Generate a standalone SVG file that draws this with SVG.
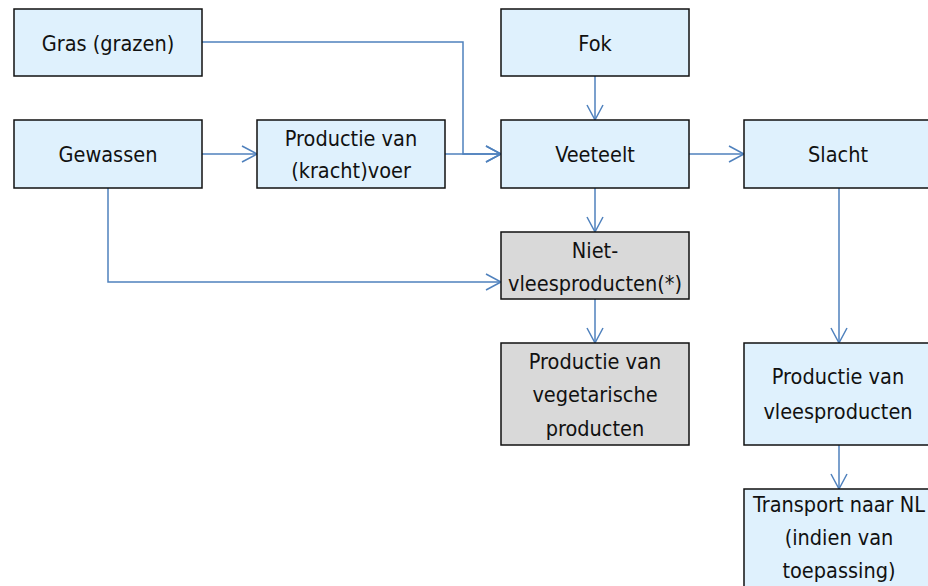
<svg xmlns="http://www.w3.org/2000/svg" width="928" height="586" viewBox="0 0 928 586">
<style>
.box{fill:#DFF1FD;stroke:#111;stroke-width:1.5}
.gray{fill:#D9D9D9;stroke:#111;stroke-width:1.5}
text{font-family:"DejaVu Sans Condensed","DejaVu Sans",sans-serif;font-size:21.5px;fill:#111;text-anchor:middle}
.c{fill:none;stroke:#4F81BD;stroke-width:1.5;marker-end:url(#ah)}
</style>
<defs>
<marker id="ah" markerUnits="userSpaceOnUse" markerWidth="20" markerHeight="20" refX="15" refY="8" orient="auto" overflow="visible">
<path d="M0,0 L15,8 L0,16" fill="none" stroke="#4F81BD" stroke-width="1.5"/>
</marker>
</defs>
<rect width="928" height="586" fill="#fff"/>
<g id="connectors">
<path class="c" d="M202,42 H463 V154 H501"/>
<path class="c" d="M445,154 H501"/>
<path class="c" d="M202,154 H257"/>
<path class="c" d="M108,188 V282 H501"/>
<path class="c" d="M595,76 V120"/>
<path class="c" d="M595,188 V232"/>
<path class="c" d="M595,299 V343"/>
<path class="c" d="M689,154 H744"/>
<path class="c" d="M839,188 V343"/>
<path class="c" d="M839,445 V489"/>
</g>
<g id="gras"><rect class="box" x="14" y="9" width="188" height="67"/><text x="108" y="51">Gras (grazen)</text></g>
<g id="fok"><rect class="box" x="501" y="9" width="188" height="67"/><text x="595" y="51">Fok</text></g>
<g id="gewassen"><rect class="box" x="14" y="120" width="188" height="68"/><text x="108" y="162">Gewassen</text></g>
<g id="krachtvoer"><rect class="box" x="257" y="120" width="188" height="68"/><text x="351" y="146">Productie van</text><text x="351" y="178">(kracht)voer</text></g>
<g id="veeteelt"><rect class="box" x="501" y="120" width="188" height="68"/><text x="595" y="162">Veeteelt</text></g>
<g id="slacht"><rect class="box" x="744" y="120" width="188" height="68"/><text x="838" y="162">Slacht</text></g>
<g id="nietvlees"><rect class="gray" x="501" y="232" width="188" height="67"/><text x="595" y="258">Niet-</text><text x="595" y="291">vleesproducten(*)</text></g>
<g id="vegetarisch"><rect class="gray" x="501" y="343" width="188" height="102"/><text x="595" y="369">Productie van</text><text x="595" y="402">vegetarische</text><text x="595" y="436">producten</text></g>
<g id="vleesproducten"><rect class="box" x="744" y="343" width="188" height="102"/><text x="838" y="384">Productie van</text><text x="838" y="419">vleesproducten</text></g>
<g id="transport"><rect class="box" x="744" y="489" width="188" height="104"/><text x="839" y="512">Transport naar NL</text><text x="839" y="545">(indien van</text><text x="839" y="578">toepassing)</text></g>
</svg>
